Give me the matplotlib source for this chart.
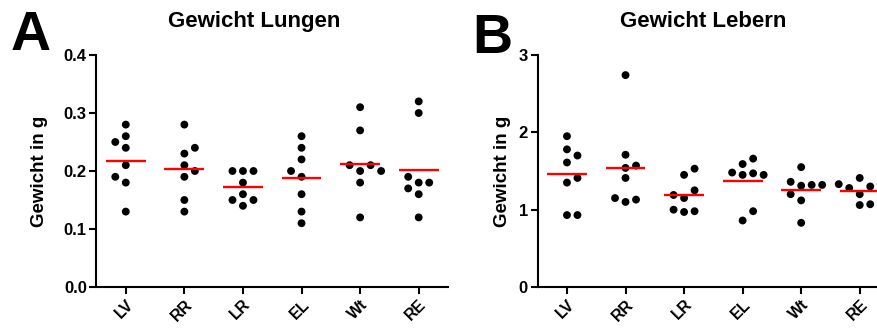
import numpy as np
import matplotlib
matplotlib.use('Agg')
import matplotlib.pyplot as plt

plt.rcParams['font.family'] = ['Liberation Sans', 'DejaVu Sans']
plt.rcParams['font.weight'] = 'bold'

# ---------------- data ----------------
groups = ['LV', 'RR', 'LR', 'EL', 'Wt', 'RE']

lunge_LV = [0.28, 0.26, 0.24, 0.21, 0.18, 0.13, 0.25, 0.19]
lunge_RR = [0.28, 0.23, 0.21, 0.19, 0.15, 0.13, 0.24, 0.20]
lunge_LR = [0.20, 0.18, 0.16, 0.14, 0.20, 0.20, 0.15, 0.15]
lunge_EL = [0.26, 0.24, 0.22, 0.19, 0.16, 0.13, 0.11, 0.20]
lunge_Wt = [0.31, 0.27, 0.20, 0.18, 0.12, 0.21, 0.21, 0.20]
lunge_RE = [0.32, 0.30, 0.18, 0.16, 0.12, 0.19, 0.18, 0.17]

leber_LV = [1.95, 1.78, 1.61, 1.35, 0.93, 1.70, 1.41, 0.93]
leber_RR = [2.74, 1.71, 1.54, 1.41, 1.10, 1.57, 1.13, 1.15]
leber_LR = [1.45, 1.15, 0.97, 1.53, 1.25, 1.19, 0.98, 1.00]
leber_EL = [1.59, 0.86, 1.45, 1.66, 1.47, 0.98, 1.48, 1.45]
leber_Wt = [1.55, 1.31, 1.12, 0.83, 1.32, 1.36, 1.20, 1.32]
leber_RE = [1.41, 1.20, 1.06, 1.30, 1.28, 1.33, 1.33, 1.07]

lunge_ticks = [0.0, 0.1, 0.2, 0.3, 0.4]
leber_ticks = [0, 1, 2, 3]

# ---------------- layout / style ----------------
W, H = 878, 332
fig = plt.figure(figsize=(W / 100, H / 100), dpi=100)


def px_rect(x0, y_top, x1, y_bot):
    return [x0 / W, 1 - y_bot / H, (x1 - x0) / W, (y_bot - y_top) / H]


axA = fig.add_axes(px_rect(96.5, 55, 448, 287))
axB = fig.add_axes(px_rect(537.7, 55, 889, 287))

# side preference for swarm placement (style)
pref_lunge = [-1, 1, -1, -1, 1, -1]
pref_leber = [1, 1, 1, 1, 1, 1]


def swarm_x(ax, xc, vals, pref, step_px=10.5, thr_px=9.9):
    p0 = ax.transData.transform((0, 0))
    p1 = ax.transData.transform((1, 1))
    sx = p1[0] - p0[0]
    sy = p1[1] - p0[1]
    placed = []
    xs = []
    cands = [0]
    for j in range(1, 6):
        cands += [pref * j, -pref * j]
    for v in vals:
        chosen = cands[-1]
        for c in cands:
            if all(np.hypot((c - o) * step_px, (v - w) * sy) >= thr_px for o, w in placed):
                chosen = c
                break
        placed.append((chosen, v))
        xs.append(xc + chosen * step_px / sx)
    return xs


def panel(ax, series, ylim, ticks, fmt, prefs):
    ax.set_xlim(-0.5, 5.5)
    ax.set_ylim(*ylim)
    for i, vals in enumerate(series):
        xs = swarm_x(ax, i, vals, prefs[i])
        ax.scatter(xs, vals, s=32, color='black', edgecolors='none', zorder=2, clip_on=False)
        m = np.mean(vals)
        ax.hlines(m, i - 0.34, i + 0.34, color='#ff0000', lw=1.7, zorder=3)
    for sp in ['top', 'right']:
        ax.spines[sp].set_visible(False)
    for sp in ['left', 'bottom']:
        ax.spines[sp].set_linewidth(1.5)
    ax.set_yticks(ticks)
    ax.set_yticklabels([fmt.format(t) for t in ticks], fontsize=12, fontweight='bold')
    ax.set_xticks(range(len(groups)))
    ax.set_xticklabels(groups, rotation=45, ha='right', va='top', rotation_mode='anchor',
                       fontsize=11.5, fontweight='bold')
    ax.tick_params(axis='both', direction='out', length=5, width=1.5, pad=2)


panel(axA, [lunge_LV, lunge_RR, lunge_LR, lunge_EL, lunge_Wt, lunge_RE],
      (0, 0.4), lunge_ticks, '{:.1f}', pref_lunge)
panel(axB, [leber_LV, leber_RR, leber_LR, leber_EL, leber_Wt, leber_RE],
      (0, 3), leber_ticks, '{:d}', pref_leber)


def ftext(x, y, s, **kw):
    fig.text(x / W, 1 - y / H, s, **kw)


ftext(254, 27, 'Gewicht Lungen', ha='center', va='baseline', fontsize=16, fontweight='bold')
ftext(703, 27, 'Gewicht Lebern', ha='center', va='baseline', fontsize=16, fontweight='bold')
ftext(11, 50, 'A', ha='left', va='baseline', fontsize=40, fontweight='bold')
ftext(472, 53, 'B', ha='left', va='baseline', fontsize=40, fontweight='bold')
ftext(40, 171, 'Gewicht in g', ha='center', va='center', rotation=90, fontsize=13.5, fontweight='bold')
ftext(503, 171, 'Gewicht in g', ha='center', va='center', rotation=90, fontsize=13.5, fontweight='bold')

fig.savefig('out.png', dpi=100)
